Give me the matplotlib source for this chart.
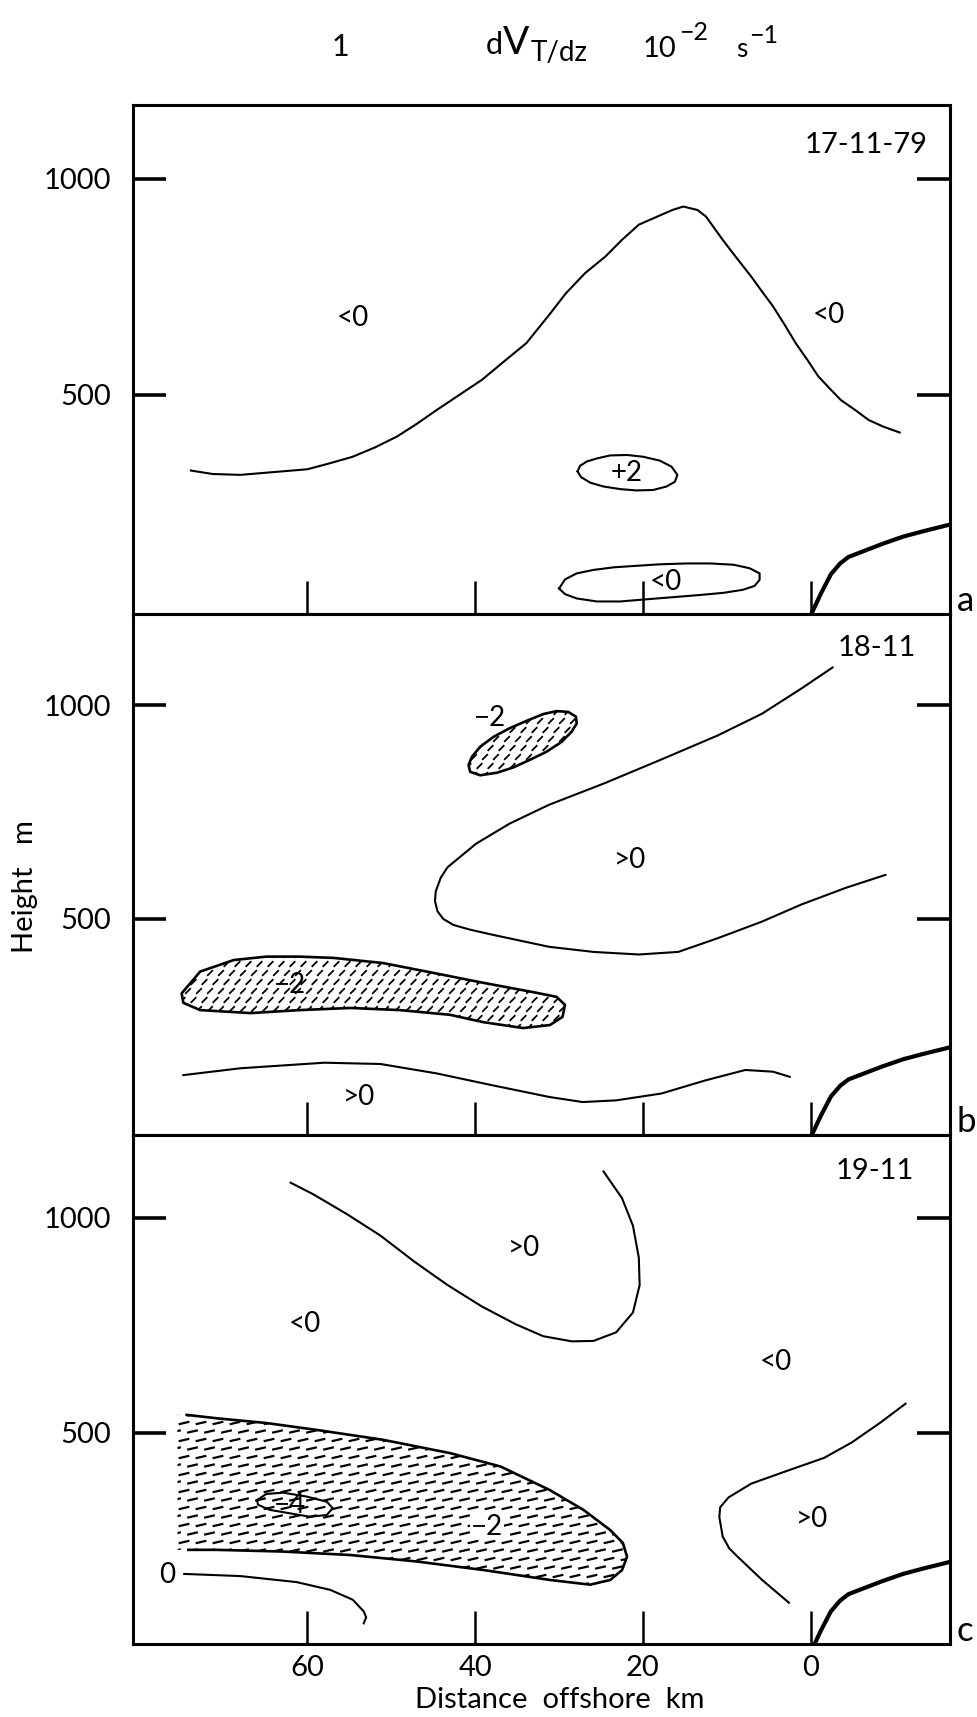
import numpy as np
import matplotlib.pyplot as plt
from matplotlib.patches import Polygon
from matplotlib.collections import LineCollection

plt.rcParams['font.family'] = ['Lato', 'DejaVu Sans']

# ---- data (distance offshore km, height m) ----
x_ticks = [60, 40, 20, 0]
x_ticklabels = ['60', '40', '20', '0']
y_ticks = [500, 1000]
y_ticklabels = ['500', '1000']

# sea floor / coast, same in all panels
terrain_km = [0, -1.2, -2.4, -3.5, -4.5, -6.5, -8.5, -11.0, -13.5, -16.6]
terrain_m = [-10, 40, 85, 110, 125, 140, 155, 172, 185, 200]

# panel a 17-11-79
a_main_km = [73.9, 71.3, 68.0, 60.0, 57.3, 54.6, 51.9, 49.3, 46.9, 44.6, 41.9, 39.2,
             36.6, 33.9, 31.2, 29.2, 26.9, 24.5, 22.5, 20.5, 17.8, 16.5, 15.2, 13.5,
             12.5, 10.5, 8.8, 7.1, 5.8, 4.5, 3.1, 1.8, 0.4, -0.9, -2.2, -3.6, -5.3,
             -6.9, -8.6, -10.6]
a_main_m = [325, 317, 315, 328, 342, 357, 379, 404, 434, 465, 500, 535,
            577, 620, 685, 735, 782, 820, 859, 894, 917, 928, 936, 928,
            913, 859, 816, 774, 739, 705, 662, 620, 581, 543, 516, 488, 465,
            442, 427, 413]
a_plus_km = [27.8, 27.5, 26.7, 25.5, 23.9, 21.9, 20.0, 18.0, 16.6, 15.9, 16.2, 17.2,
             18.8, 20.8, 22.7, 24.7, 26.3, 27.4, 27.8]
a_plus_m = [323, 336, 346, 353, 360, 361, 357, 348, 334, 315, 299, 288,
            280, 279, 282, 288, 297, 310, 323]
a_low_km = [30.0, 29.3, 27.9, 25.9, 23.5, 21.2, 18.0, 14.8, 12.0, 9.2, 7.3, 6.1,
            6.1, 6.7, 8.1, 10.4, 13.2, 16.4, 19.6, 22.7, 25.5, 27.9, 29.3, 30.0]
a_low_m = [52, 73, 87, 95, 101, 104, 108, 110, 110, 107, 99, 87,
           72, 58, 49, 42, 37, 32, 27, 22, 22, 29, 39, 52]
a_labels = [('<0', 54.6, 678), ('<0', -2.2, 685), ('+2', 22.0, 319), ('<0', 17.3, 68)]

# panel b 18-11
b_tongue_km = [-2.6, 1.1, 5.8, 11.1, 17.8, 24.5, 31.2, 35.9, 39.9, 43.3, 44.1, 44.7,
               44.8, 44.5, 43.8, 42.6, 40.6, 37.9, 31.2, 25.9, 20.5, 15.8, 11.1, 5.8,
               1.1, -4.2, -8.9]
b_tongue_m = [1088, 1039, 980, 929, 873, 818, 767, 723, 676, 621, 597, 565,
              542, 518, 500, 486, 475, 463, 435, 423, 417, 423, 455, 494,
              534, 573, 603]
b_small_km = [40.8, 40.4, 39.4, 37.8, 35.9, 33.9, 31.9, 30.3, 28.9, 28.0, 27.9, 28.5,
              29.7, 31.5, 33.5, 35.5, 37.4, 39.4, 40.6]
b_small_m = [860, 879, 903, 926, 946, 963, 979, 986, 984, 973, 957, 938,
             914, 891, 872, 854, 842, 836, 844]
b_long_km = [75.0, 72.8, 68.8, 64.9, 60.9, 56.9, 51.0, 45.0, 39.1, 33.1, 30.3, 29.3,
             29.6, 31.1, 34.3, 39.1, 43.0, 49.0, 54.9, 60.9, 66.8, 72.8, 74.8]
b_long_m = [326, 377, 404, 412, 412, 409, 397, 374, 351, 329, 318, 299,
            271, 252, 245, 259, 276, 287, 292, 287, 280, 287, 304]
b_low_km = [74.8, 68.0, 58.0, 51.3, 44.6, 37.9, 31.2, 27.2, 23.2, 17.8, 12.5, 7.8, 4.5, 2.5]
b_low_m = [135, 151, 164, 161, 139, 111, 84, 72, 76, 92, 123, 147, 143, 131]
b_labels = [('−2', 38.2, 969), ('>0', 21.5, 637), ('−2', 62.1, 346), ('>0', 53.8, 84)]

# panel c 19-11
c_upper_km = [62.0, 59.3, 55.3, 51.3, 47.3, 43.3, 39.2, 35.2, 31.9, 28.5, 25.9, 23.2,
              21.2, 20.4, 20.5, 21.2, 22.5, 24.7]
c_upper_m = [1082, 1055, 1009, 959, 899, 844, 794, 753, 725, 713, 714, 734,
             780, 844, 908, 982, 1046, 1108]
c_right_km = [-11.3, -8.3, -4.9, -1.6, 2.5, 7.1, 9.8, 10.8, 10.9, 10.5, 9.7, 8.5, 5.8, 2.6]
c_right_m = [568, 524, 478, 442, 414, 382, 350, 327, 304, 259, 231, 208, 158, 105]
c_big_km = [74.4, 70.8, 64.9, 58.9, 51.0, 43.0, 37.0, 31.1, 27.1, 23.9, 22.4, 21.9,
            22.5, 23.9, 26.3, 31.1, 39.0, 47.0, 54.9, 62.9, 70.8, 74.2]
c_big_m = [542, 534, 523, 507, 484, 453, 422, 367, 321, 274, 244, 212,
           181, 158, 147, 158, 181, 201, 216, 224, 228, 228]
c_big_edge_km = 75.5
c_m4_km = [66.0, 64.9, 62.9, 60.1, 57.7, 57.0, 57.7, 59.7, 62.1, 64.5, 65.9, 66.0]
c_m4_m = [344, 358, 361, 352, 340, 325, 309, 305, 313, 321, 333, 344]
c_zero_km = [74.7, 68.0, 61.3, 57.3, 54.6, 53.3, 53.0, 53.3]
c_zero_m = [172, 167, 153, 135, 112, 85, 71, 57]
c_labels = [('>0', 34.2, 931), ('<0', 60.3, 753), ('<0', 4.1, 666), ('>0', -0.1, 300),
            ('−4', 62.1, 333), ('−2', 38.6, 282), ('0', 76.7, 169)]

dates = ['17-11-79', '18-11', '19-11']
panel_letters = ['a', 'b', 'c']

# title pieces: text, left x px, baseline y px, font size
title_parts = [('d', 486, 54, 22), ('V', 503, 54, 28), ('T/dz', 531, 61, 20),
               ('10', 643, 57, 21), ('−2', 679, 40, 18),
               ('s', 736, 57, 19), ('−1', 749, 43, 18)]

# ---- layout ----
W, H = 978, 1717
fig = plt.figure(figsize=(W / 100, H / 100), dpi=100)
left_px, right_px = 133, 950
tops = [105, 614, 1135]
bottoms = [614, 1135, 1644]
ylims = [(-7, 1171), (-5, 1213), (9, 1193)]
date_pos = [(0.973, 0.921), (0.958, 0.935), (0.956, 0.929)]

LW = 1.5


def dash_hatch(ax, patch, h_px, sx, sy, length, angle, lw=1.1):
    # short dashed hatching, clipped to the patch
    w_px = right_px - left_px
    a = np.deg2rad(angle)
    dx, dy = 0.5 * length * np.cos(a), 0.5 * length * np.sin(a)
    segs = []
    for i, yc in enumerate(np.arange(0, h_px, sy)):
        off = (i % 2) * sx / 2
        for xc in np.arange(off, w_px, sx):
            segs.append([((xc - dx) / w_px, (yc - dy) / h_px),
                         ((xc + dx) / w_px, (yc + dy) / h_px)])
    lc = LineCollection(segs, colors='k', linewidths=lw, transform=ax.transAxes)
    ax.add_collection(lc)
    lc.set_clip_path(patch)


axes = []
for i in range(3):
    ax = fig.add_axes([left_px / W, 1 - bottoms[i] / H,
                       (right_px - left_px) / W, (bottoms[i] - tops[i]) / H])
    ax.set_xlim(80.8, -16.6)
    ax.set_ylim(*ylims[i])
    ax.set_xticks(x_ticks)
    ax.set_yticks(y_ticks)
    ax.set_yticklabels(y_ticklabels)
    ax.set_xticklabels(x_ticklabels if i == 2 else [])
    ax.tick_params(axis='y', direction='in', length=24, width=2.6, left=True, right=True,
                   labelsize=21, pad=16)
    ax.tick_params(axis='x', direction='in', length=24, width=1.8, top=False,
                   labelbottom=(i == 2), labelsize=21, pad=8)
    for s in ax.spines.values():
        s.set_linewidth(2.2)
    ax.plot(terrain_km, terrain_m, color='k', lw=3.0, solid_capstyle='round')
    ax.text(date_pos[i][0], date_pos[i][1], dates[i], transform=ax.transAxes,
            ha='right', va='center', fontsize=21)
    fig.text(957 / W, 1 - bottoms[i] / H + 0.002, panel_letters[i], fontsize=25,
             ha='left', va='baseline')
    axes.append(ax)

# panel a
ax = axes[0]
ax.plot(a_main_km, a_main_m, color='k', lw=LW)
ax.plot(a_plus_km, a_plus_m, color='k', lw=LW)
ax.plot(a_low_km, a_low_m, color='k', lw=LW)
for t, x, y in a_labels:
    ax.text(x, y, t, ha='center', va='center', fontsize=20)

# panel b
ax = axes[1]
ax.plot(b_tongue_km, b_tongue_m, color='k', lw=LW)
ax.plot(b_low_km, b_low_m, color='k', lw=LW)
hb = bottoms[1] - tops[1]
for xs, ys in [(b_small_km, b_small_m), (b_long_km, b_long_m)]:
    p = Polygon(np.column_stack([xs, ys]), closed=True, facecolor='none',
                edgecolor='k', lw=1.9, joinstyle='round')
    ax.add_patch(p)
    dash_hatch(ax, p, hb, 11, 9, 8, 45, lw=1.3)
for t, x, y in b_labels:
    ax.text(x, y, t, ha='center', va='center', fontsize=20)

# panel c
ax = axes[2]
ax.plot(c_upper_km, c_upper_m, color='k', lw=LW)
ax.plot(c_right_km, c_right_m, color='k', lw=LW)
ax.plot(c_zero_km, c_zero_m, color='k', lw=LW)
hc = bottoms[2] - tops[2]
big_x = [c_big_edge_km] + c_big_km + [c_big_edge_km]
big_y = [c_big_m[0]] + c_big_m + [c_big_m[-1]]
pc = Polygon(np.column_stack([big_x, big_y]), closed=True, facecolor='none',
             edgecolor='none')
ax.add_patch(pc)
dash_hatch(ax, pc, hc, 17, 8.5, 11, 13, lw=1.6)
ax.plot(c_big_km, c_big_m, color='k', lw=1.9)
ax.plot(c_m4_km, c_m4_m, color='k', lw=LW)
for t, x, y in c_labels:
    ax.text(x, y, t, ha='center', va='center', fontsize=20,
            bbox=dict(fc='white', ec='none', pad=0.5) if t == '−2' else None)

# titles and axis labels
fig.text(340 / W, 1 - 56 / H, '1', ha='center', va='baseline', fontsize=22)
for t, x, y, fs in title_parts:
    fig.text(x / W, 1 - y / H, t, ha='left', va='baseline', fontsize=fs)
fig.text(560 / W, 1 - 1700 / H, 'Distance  offshore  km', ha='center', va='center',
         fontsize=21)
fig.text(25 / W, 1 - 887 / H, 'Height   m', ha='center', va='center', rotation=90,
         fontsize=21)

fig.savefig('out.png', dpi=100)
